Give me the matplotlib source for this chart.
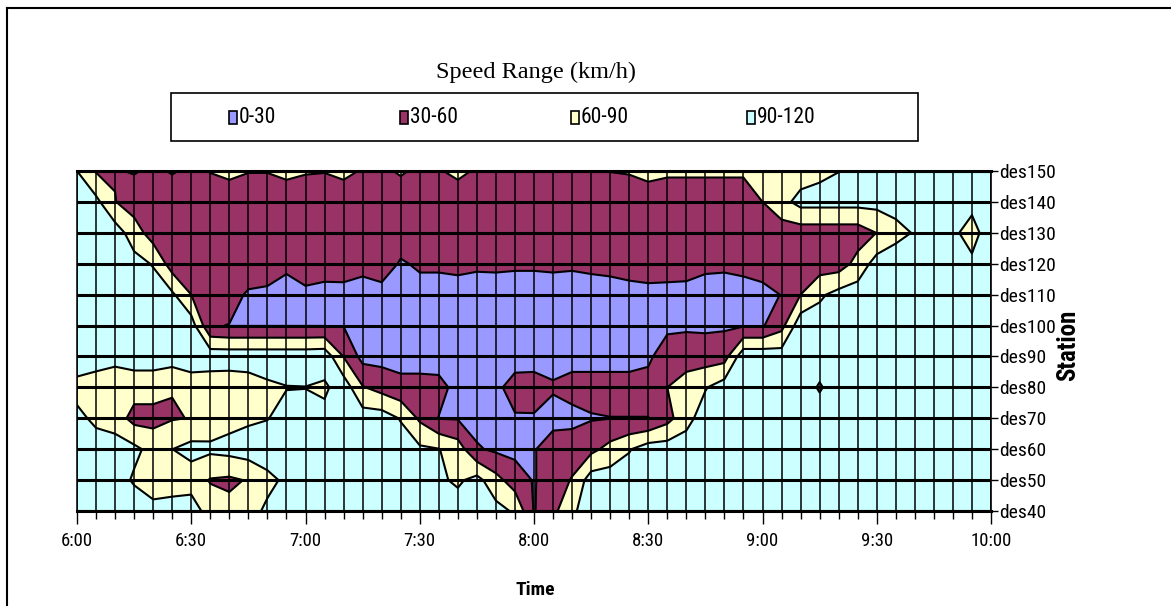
import numpy as np
import matplotlib
matplotlib.use("Agg")
import matplotlib.pyplot as plt
from matplotlib.patches import Rectangle
from matplotlib.lines import Line2D
from matplotlib import font_manager as fm

# ---------------- data ----------------
time_labels = ["6:00", "6:30", "7:00", "7:30", "8:00", "8:30", "9:00", "9:30", "10:00"]
minutes = list(range(0, 241, 5))          # 6:00 .. 10:00 every 5 min (49 samples)
stations = [40, 50, 60, 70, 80, 90, 100, 110, 120, 130, 140, 150]
station_labels = ["des40", "des50", "des60", "des70", "des80", "des90",
                  "des100", "des110", "des120", "des130", "des140", "des150"]
range_labels = ["0-30", "30-60", "60-90", "90-120"]
range_colors = ["#9999FF", "#993366", "#FFFFCC", "#CCFFFF"]
speed_levels = [0, 30, 60, 90, 120]

# speed (km/h) per station, one value per 5-minute sample
speed_des150 = [90, 58, 58, 62, 55, 62, 55, 61, 66, 61, 61, 66, 62, 61, 66, 58, 55, 63, 55, 58,
                66, 57, 50, 50, 50, 50, 50, 60.5, 60.5, 62, 68, 64, 64, 64, 64, 64, 75, 80, 75, 84,
                89.6, 100, 105, 105, 105, 105, 105, 105, 105]
speed_des140 = [105, 98, 61, 45, 45, 45, 45, 45, 45, 45, 45, 45, 45, 45, 45, 45, 45, 45, 45, 45,
                45, 45, 45, 45, 45, 45, 45, 45, 45, 45, 45, 45, 45, 45, 45, 45, 60, 80, 100, 100,
                100, 100, 100, 100, 100, 100, 100, 93, 100]
speed_des130 = [105, 105, 105, 75, 45, 45, 45, 45, 45, 45, 45, 45, 45, 45, 45, 45, 45, 45, 45, 45,
                45, 45, 45, 45, 45, 45, 45, 45, 45, 45, 45, 45, 45, 45, 45, 45, 45, 45, 45, 45,
                45, 45, 60.5, 82, 92, 100, 92, 86, 96]
speed_des120 = [105, 105, 105, 100, 88, 45, 45, 45, 45, 54, 56, 35, 55, 44, 45, 37, 45, 27, 34, 34,
                36, 33.5, 34, 33, 33, 34, 33, 35, 37, 42, 47, 45, 43, 35, 34, 37, 45, 45, 45, 45,
                45, 70, 103, 105, 105, 105, 105, 92, 105]
speed_des110 = [105, 105, 105, 105, 105, 95, 60, 45, 45, 25, 20, 20, 20, 20, 20, 20, 20, 20, 20, 20,
                20, 20, 20, 20, 20, 20, 20, 20, 20, 20, 20, 20, 20, 20, 20, 20, 20, 31, 60, 85,
                100, 105, 105, 105, 105, 105, 105, 105, 105]
speed_des100 = [105, 105, 105, 105, 105, 105, 105, 33, 29, 29, 29, 29, 29, 29, 29, 20, 20, 20, 20, 20,
                20, 20, 20, 20, 20, 20, 20, 20, 20, 20, 20, 24, 26, 25, 26, 27.5, 27.5, 50, 110, 105,
                105, 105, 105, 105, 105, 105, 105, 105, 105]
speed_des90 = [105, 105, 105, 105, 105, 105, 105, 108, 108, 108, 108, 108, 108, 110, 59, 20, 20, 20, 20, 15,
               20, 20, 20, 20, 20, 20, 20, 20, 20, 20, 25, 45, 45, 45, 48, 110, 110, 105, 105, 105,
               105, 105, 105, 105, 105, 105, 105, 105, 105]
speed_des80 = [82, 74, 59.5, 72, 72, 61, 76, 70.5, 69, 73, 84, 89, 89.5, 84, 108, 62, 49, 38, 38, 40,
               20, 20, 25, 39, 40, 33, 40, 40, 40, 40, 40, 60, 75, 88, 105, 105, 105, 105, 105, 87,
               105, 105, 105, 105, 105, 105, 105, 105, 105]
speed_des70 = [96, 85, 75, 50, 50, 58, 61, 72, 80, 85, 89, 100, 100, 100, 105, 105, 105, 88, 55, 29,
               28, 20, 20, 28, 28, 20, 22, 28, 29.5, 29.5, 29.5, 50, 80, 105, 105, 105, 105, 105, 105, 105,
               105, 105, 105, 105, 105, 105, 105, 105, 105]
speed_des60 = [105, 101, 105, 97, 80, 89.8, 100, 96, 100, 105, 105, 105, 105, 105, 105, 105, 105, 105, 95, 91,
               75, 33, 25, 22, 28, 45, 45, 52, 70, 88, 105, 105, 105, 105, 105, 105, 105, 105, 105, 105,
               105, 105, 105, 105, 105, 105, 105, 105, 105]
speed_des50 = [105, 105, 105, 86, 75, 75, 75, 58, 55, 62, 83, 95, 105, 105, 105, 105, 105, 105, 105, 95,
               85, 100, 70, 45, 28, 45, 62, 105, 105, 105, 105, 105, 105, 105, 105, 105, 105, 105, 105, 105,
               105, 105, 105, 105, 105, 105, 105, 105, 105]
speed_des40 = [105, 105, 105, 110, 99, 103, 107, 75, 68, 80, 95, 105, 105, 105, 105, 105, 105, 105, 105, 105,
               105, 105, 100, 86, 28, 52, 85, 105, 105, 105, 105, 105, 105, 105, 105, 105, 105, 105, 105, 105,
               105, 105, 105, 105, 105, 105, 105, 105, 105]

speed = np.array([speed_des40, speed_des50, speed_des60, speed_des70, speed_des80, speed_des90,
                  speed_des100, speed_des110, speed_des120, speed_des130, speed_des140, speed_des150],
                 dtype=float)

# ---------------- fonts ----------------
def pick_narrow(bold=False):
    names = {f.name for f in fm.fontManager.ttflist}
    for cand in ['Liberation Sans Narrow', 'Roboto Condensed', 'Open Sans Condensed']:
        if cand in names:
            return fm.FontProperties(family=cand, weight='bold' if bold else 'normal')
    for f in fm.fontManager.ttflist:
        if f.name == 'DejaVu Sans' and 'ondensed' in f.fname and 'Oblique' not in f.fname \
                and (('Bold' in f.fname) == bold):
            return fm.FontProperties(fname=f.fname)
    return fm.FontProperties(family=['Liberation Sans', 'DejaVu Sans'],
                             weight='bold' if bold else 'normal')

fp_narrow = pick_narrow(False)
fp_bold = pick_narrow(True)
serif = ['Liberation Serif', 'DejaVu Serif']

def fp(base, size):
    p = base.copy()
    p.set_size(size)
    return p

# ---------------- figure ----------------
W, H = 1171, 606
fig = plt.figure(figsize=(W / 100, H / 100), dpi=100)

L, R, T, B = 77, 991, 171, 511
ax = fig.add_axes([L / W, 1 - B / H, (R - L) / W, (B - T) / H])

ax.contourf(minutes, stations, speed, levels=speed_levels, colors=range_colors)
ax.contour(minutes, stations, speed, levels=speed_levels[1:-1], colors='black', linewidths=1.5)

ax.set_xlim(0, 240)
ax.set_ylim(40, 150)

ax.set_xticks(list(range(0, 241, 30)))
ax.set_xticklabels(time_labels, fontproperties=fp(fp_narrow, 13.5))
ax.set_xticks(minutes, minor=True)
ax.set_yticks(stations)
ax.set_yticklabels(station_labels, fontproperties=fp(fp_narrow, 14))
ax.yaxis.tick_right()
ax.tick_params(axis='x', which='major', direction='out', length=9, width=1, pad=6, colors='black')
ax.tick_params(axis='x', which='minor', direction='out', length=6, width=1, colors='black')
ax.tick_params(axis='y', which='major', direction='out', length=5, width=1, pad=1, colors='black')

ax.grid(True, axis='x', which='both', color='black', linewidth=1.1, zorder=3)
ax.grid(True, axis='y', which='major', color='black', linewidth=2.2, zorder=3)
ax.set_axisbelow(False)
for side in ['left', 'right', 'top', 'bottom']:
    ax.spines[side].set_color('black')
ax.spines['top'].set_linewidth(2.2)
ax.spines['bottom'].set_linewidth(2.2)
ax.spines['left'].set_linewidth(1.1)
ax.spines['right'].set_linewidth(1.2)

# ---------------- overlay in pixel coordinates ----------------
ov = fig.add_axes([0, 0, 1, 1], zorder=-1)
ov.set_xlim(0, W)
ov.set_ylim(H, 0)
ov.axis('off')

# outer chart border
ov.add_line(Line2D([7, 7], [8, H + 5], color='black', linewidth=1.5))
ov.add_line(Line2D([7, W + 5], [8, 8], color='black', linewidth=1.5))

# legend
ov.text(536, 72, "Speed Range (km/h)", fontfamily=serif, fontsize=17.5, ha='center', va='center')
ov.add_patch(Rectangle((171, 93), 747, 48, facecolor='white', edgecolor='black', linewidth=1.2))
leg_x = [229, 400, 571, 747]
for x0, lab, col in zip(leg_x, range_labels, range_colors):
    ov.add_patch(Rectangle((x0, 111), 8, 13, facecolor=col, edgecolor='black', linewidth=1.2))
    ov.text(x0 + 10, 117.5, lab, fontproperties=fp(fp_narrow, 15.5), ha='left', va='center')

# axis titles
ov.text(535, 590, "Time", fontproperties=fp(fp_bold, 14), ha='center', va='center')
ov.text(1068, 345, "Station", fontproperties=fp(fp_bold, 18),
        ha='center', va='center', rotation=90)

fig.savefig("out.png", dpi=100)
